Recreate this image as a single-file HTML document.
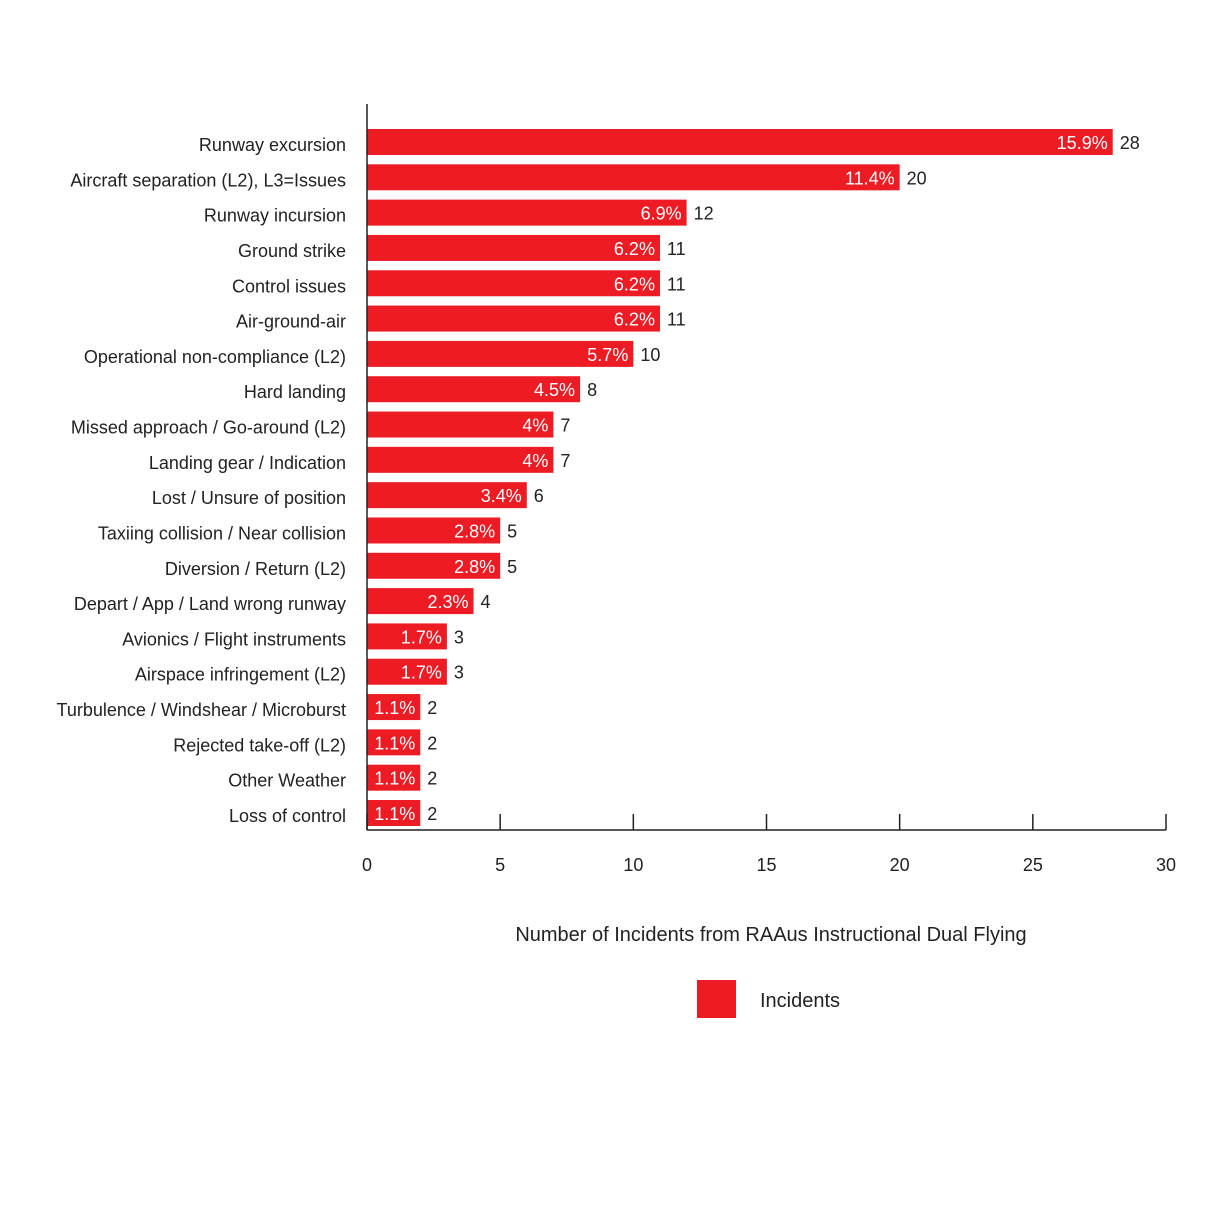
<!DOCTYPE html>
<html><head><meta charset="utf-8"><style>
html,body{margin:0;padding:0;background:#fff;}
svg{display:block;font-family:"Liberation Sans",sans-serif;}
</style></head><body>
<svg id="chart" width="1210" height="1210" viewBox="0 0 1210 1210">
<g id="bars"></g>
<g id="axes"></g>
<text x="771" y="941" text-anchor="middle" font-size="20" fill="#222">Number of Incidents from RAAus Instructional Dual Flying</text>
<g>
<rect x="697" y="980" width="39" height="38" fill="#ED1C24"/>
<text x="760" y="1007" font-size="20" fill="#222">Incidents</text>
</g>
</svg>
<script>
const categories=["Runway excursion","Aircraft separation (L2), L3=Issues","Runway incursion","Ground strike","Control issues","Air-ground-air","Operational non-compliance (L2)","Hard landing","Missed approach / Go-around (L2)","Landing gear / Indication","Lost / Unsure of position","Taxiing collision / Near collision","Diversion / Return (L2)","Depart / App / Land wrong runway","Avionics / Flight instruments","Airspace infringement (L2)","Turbulence / Windshear / Microburst","Rejected take-off (L2)","Other Weather","Loss of control"];
const values=[28,20,12,11,11,11,10,8,7,7,6,5,5,4,3,3,2,2,2,2];
const percents=["15.9%","11.4%","6.9%","6.2%","6.2%","6.2%","5.7%","4.5%","4%","4%","3.4%","2.8%","2.8%","2.3%","1.7%","1.7%","1.1%","1.1%","1.1%","1.1%"];
const ticks=[0,5,10,15,20,25,30];
const NS="http://www.w3.org/2000/svg";
const x0=367,x1=1166,xMax=30;
const xs=v=>x0+(v/xMax)*(x1-x0);
const yTop=142,yStep=(813-142)/19,bh=26;
const ys=i=>yTop+i*yStep;
function mk(tag,attrs,parent,txt){const e=document.createElementNS(NS,tag);for(const k in attrs)e.setAttribute(k,attrs[k]);if(txt!==undefined)e.textContent=txt;parent.appendChild(e);return e;}
const gb=document.getElementById('bars');
categories.forEach((c,i)=>{
  const y=ys(i);
  const r=mk('rect',{x:x0,y:y-bh/2,width:xs(values[i])-x0,height:bh,fill:'#ED1C24'},gb);
  
  
  const l=mk('text',{x:346,y:y+9,'text-anchor':'end','font-size':18,fill:'#222'},gb,c);
  
  
  const p=mk('text',{x:xs(values[i])-5,y:y+7,'text-anchor':'end','font-size':18,fill:'#fff'},gb,percents[i]);
  
  
  const v=mk('text',{x:xs(values[i])+7,y:y+7,'font-size':18,fill:'#222'},gb,String(values[i]));
  
  
});
const ga=document.getElementById('axes');
const ya=mk('line',{x1:x0,y1:104,x2:x0,y2:830,stroke:'#222','stroke-width':1.5},ga);


const xa=mk('line',{x1:x0,y1:830,x2:x1,y2:830,stroke:'#222','stroke-width':1.5},ga);


ticks.forEach(t=>{
  const tk=mk('line',{x1:xs(t),y1:814,x2:xs(t),y2:830,stroke:'#222','stroke-width':1.5},ga);
  
  
  const tl=mk('text',{x:xs(t),y:871,'text-anchor':'middle','font-size':18,fill:'#222'},ga,String(t));
  
  
});
</script>
</body></html>
